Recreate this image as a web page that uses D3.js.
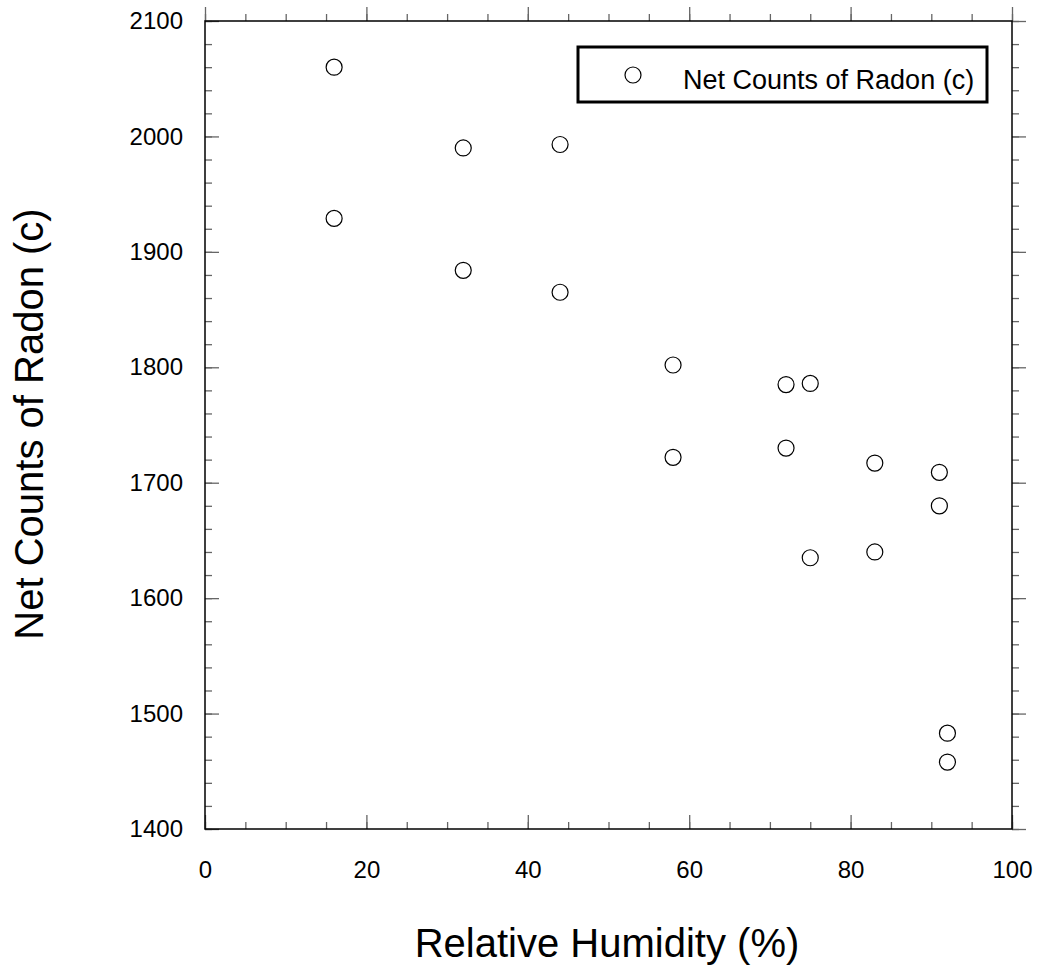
<!DOCTYPE html>
<html>
<head>
<meta charset="utf-8">
<script src="https://cdn.jsdelivr.net/npm/d3@7"></script>
<style>
  body { margin: 0; background: #fff; }
  svg text { font-family: "Liberation Sans", Arial, sans-serif; fill: #000; }
</style>
</head>
<body>
<div id="chart"></div>
<script>
// data
var humidity = [16, 16, 32, 32, 44, 44, 58, 58, 72, 72, 75, 75, 83, 83, 91, 91, 92, 92];
var netCounts = [2060, 1929, 1990, 1884, 1993, 1865, 1802, 1722, 1785, 1730, 1786, 1635, 1717, 1640, 1709, 1680, 1483, 1458];
var xTicks = [0, 20, 40, 60, 80, 100];
var yTicks = [1400, 1500, 1600, 1700, 1800, 1900, 2000, 2100];
var seriesName = "Net Counts of Radon (c)";

var W = 1040, H = 972;
var margin = { top: 21, right: 28, bottom: 143, left: 205 };
var width = W - margin.left - margin.right,
    height = H - margin.top - margin.bottom;

var svg = d3.select("#chart").append("svg")
    .attr("width", W)
    .attr("height", H);

var g = svg.append("g")
    .attr("transform", "translate(" + margin.left + "," + margin.top + ")");

var x = d3.scaleLinear().domain([0, 100]).range([0, width]);
var y = d3.scaleLinear().domain([1400, 2100]).range([height, 0]);

var tickColor = "#666";

// ticks on all four sides, pointing inwards
function ticks(axis, scale, vals, len, pad) {
    return axis(scale).tickValues(vals).tickSizeInner(-len).tickSizeOuter(0)
        .tickFormat(pad ? d3.format("d") : "").tickPadding(pad || 0);
}
var xMinor = d3.range(0, 101, 5), yMinor = d3.range(1400, 2101, 20);

function styleAxis(sel) {
    sel.select(".domain").remove();
    sel.selectAll("line").attr("stroke", tickColor).attr("stroke-width", 1.3);
    sel.selectAll("text").style("font-size", "24px");
}

g.append("g").attr("transform", "translate(0," + height + ")")
    .call(ticks(d3.axisBottom, x, xMinor, 7)).call(styleAxis);
g.append("g").attr("transform", "translate(0," + height + ")")
    .call(ticks(d3.axisBottom, x, xTicks, 14, 32)).call(styleAxis);
g.append("g").call(ticks(d3.axisTop, x, xMinor, -7)).call(styleAxis);
g.append("g").call(ticks(d3.axisTop, x, xTicks, -14)).call(styleAxis);

g.append("g").call(ticks(d3.axisLeft, y, yMinor, 7)).call(styleAxis);
g.append("g").call(ticks(d3.axisLeft, y, yTicks, 14, 22)).call(styleAxis);
g.append("g").attr("transform", "translate(" + width + ",0)")
    .call(ticks(d3.axisRight, y, yMinor, -7)).call(styleAxis);
g.append("g").attr("transform", "translate(" + width + ",0)")
    .call(ticks(d3.axisRight, y, yTicks, -14)).call(styleAxis);

// frame
g.append("rect")
    .attr("width", width).attr("height", height)
    .attr("fill", "none").attr("stroke", "#000").attr("stroke-width", 1.5);

// points
g.selectAll("circle.pt")
    .data(humidity)
    .enter().append("circle")
    .attr("class", "pt")
    .attr("cx", function(d) { return x(d); })
    .attr("cy", function(d, i) { return y(netCounts[i]); })
    .attr("r", 8)
    .attr("fill", "#fff")
    .attr("stroke", "#000")
    .attr("stroke-width", 1.2);

// legend
var leg = g.append("g").attr("transform", "translate(" + (578 - margin.left) + "," + (47 - margin.top) + ")");
leg.append("rect")
    .attr("width", 409).attr("height", 55)
    .attr("fill", "#fff").attr("stroke", "#000").attr("stroke-width", 3);
leg.append("circle")
    .attr("cx", 55).attr("cy", 28).attr("r", 8)
    .attr("fill", "#fff").attr("stroke", "#000").attr("stroke-width", 1.2);
leg.append("text")
    .attr("x", 105).attr("y", 42)
    .style("font-size", "27px")
    .text(seriesName);

// axis titles
svg.append("text")
    .attr("x", 607).attr("y", 957)
    .attr("text-anchor", "middle")
    .style("font-size", "40px")
    .text("Relative Humidity (%)");

svg.append("text")
    .attr("transform", "translate(43,424) rotate(-90)")
    .attr("text-anchor", "middle")
    .style("font-size", "40px")
    .text(seriesName);
</script>
</body>
</html>
